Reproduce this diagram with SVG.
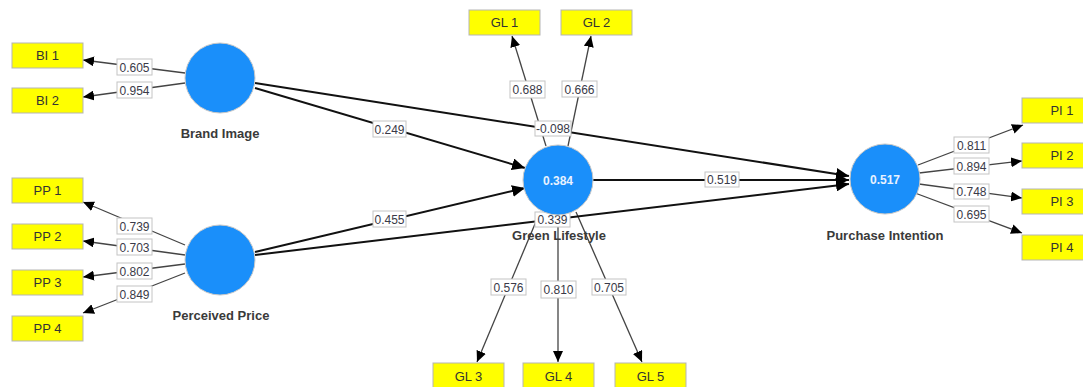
<svg xmlns="http://www.w3.org/2000/svg" width="1083" height="387" viewBox="0 0 1083 387">
<defs>
<style>
.ind{fill:#ffff00;stroke:#b5b5b5;stroke-width:1}
.indt{font-family:"Liberation Sans",Arial,sans-serif;font-size:13px;fill:#333;text-anchor:middle}
.lv{fill:#1a8ffa;stroke:#c8c8c8;stroke-width:1}
.lvn{font-family:"Liberation Sans",Arial,sans-serif;font-size:13px;font-weight:bold;fill:#3a3a3a;text-anchor:middle}
.r2{font-family:"Liberation Sans",Arial,sans-serif;font-size:12px;font-weight:bold;fill:#e8f2ff;text-anchor:middle}
.ld{stroke:#444;stroke-width:1.3;fill:none;marker-end:url(#ah)}
.st{stroke:#111;stroke-width:2;fill:none;marker-end:url(#ahb)}
.lb{fill:#fff;stroke:#c4c4c4;stroke-width:1}
.lbt{font-family:"Liberation Sans",Arial,sans-serif;font-size:12px;fill:#3a3a48;text-anchor:middle}
</style>
<marker id="ah" markerUnits="userSpaceOnUse" markerWidth="12" markerHeight="10" refX="11" refY="5" orient="auto"><path d="M0,0 L11,5 L0,10 Z" fill="#000"/></marker>
<marker id="ahb" markerUnits="userSpaceOnUse" markerWidth="14" markerHeight="12" refX="13" refY="6" orient="auto"><path d="M0,0 L13,6 L0,12 Z" fill="#000"/></marker>
</defs>
<rect width="1083" height="387" fill="#fff"/>
<g id="connectors">
<path class="ld" d="M185,73 L83,60"/>
<path class="ld" d="M185,83 L83,97"/>
<path class="ld" d="M185,245 L83,202"/>
<path class="ld" d="M185,255 L83,241"/>
<path class="ld" d="M185,264 L83,277"/>
<path class="ld" d="M185,273 L83,313"/>
<path class="ld" d="M546,146 L512,36"/>
<path class="ld" d="M568,146 L591,36"/>
<path class="ld" d="M540,212 L477,362"/>
<path class="ld" d="M558,215 L558,362"/>
<path class="ld" d="M576,212 L642,362"/>
<path class="ld" d="M918,165 L1023,125"/>
<path class="ld" d="M919,173 L1022,161"/>
<path class="ld" d="M919,184 L1022,198"/>
<path class="ld" d="M915,193 L1022,233"/>
<path class="st" d="M255,88 L525,168"/>
<path class="st" d="M255,83 L849,176"/>
<path class="st" d="M255,252 L525,188"/>
<path class="st" d="M255,255 L849,184"/>
<path class="st" d="M593,180 L849,180"/>
<g id="labels">
<rect class="lb" x="117" y="59" width="35" height="16"/><text class="lbt" x="134.5" y="71.5">0.605</text>
<rect class="lb" x="117" y="82" width="35" height="16"/><text class="lbt" x="134.5" y="94.5">0.954</text>
<rect class="lb" x="117" y="218" width="35" height="16"/><text class="lbt" x="134.5" y="230.5">0.739</text>
<rect class="lb" x="117" y="239" width="35" height="16"/><text class="lbt" x="134.5" y="251.5">0.703</text>
<rect class="lb" x="117" y="263" width="35" height="16"/><text class="lbt" x="134.5" y="275.5">0.802</text>
<rect class="lb" x="117" y="286" width="35" height="16"/><text class="lbt" x="134.5" y="298.5">0.849</text>
<rect class="lb" x="510" y="81" width="35" height="17"/><text class="lbt" x="527.5" y="94">0.688</text>
<rect class="lb" x="562" y="81" width="35" height="16"/><text class="lbt" x="579.5" y="93.5">0.666</text>
<rect class="lb" x="491" y="279" width="35" height="16"/><text class="lbt" x="508.5" y="291.5">0.576</text>
<rect class="lb" x="541" y="281" width="35" height="17"/><text class="lbt" x="558.5" y="294">0.810</text>
<rect class="lb" x="592" y="279" width="34" height="16"/><text class="lbt" x="609" y="291.5">0.705</text>
<rect class="lb" x="954" y="137" width="35" height="16"/><text class="lbt" x="971.5" y="149.5">0.811</text>
<rect class="lb" x="954" y="158" width="35" height="16"/><text class="lbt" x="971.5" y="170.5">0.894</text>
<rect class="lb" x="954" y="184" width="35" height="15"/><text class="lbt" x="971.5" y="196">0.748</text>
<rect class="lb" x="954" y="206" width="35" height="16"/><text class="lbt" x="971.5" y="218.5">0.695</text>
<rect class="lb" x="373" y="121" width="33" height="16"/><text class="lbt" x="389.5" y="133.5">0.249</text>
<rect class="lb" x="373" y="211" width="33" height="16"/><text class="lbt" x="389.5" y="223.5">0.455</text>
<rect class="lb" x="535" y="121" width="36" height="15"/><text class="lbt" x="553" y="133">-0.098</text>
<rect class="lb" x="535" y="212" width="35" height="15"/><text class="lbt" x="552.5" y="224">0.339</text>
<rect class="lb" x="705" y="172" width="34" height="15"/><text class="lbt" x="722" y="184">0.519</text>
</g>
</g>
<g id="BI1"><rect class="ind" x="12" y="43" width="71" height="25"/><text class="indt" x="47.5" y="60">BI 1</text></g>
<g id="BI2"><rect class="ind" x="12" y="88" width="71" height="25"/><text class="indt" x="47.5" y="105">BI 2</text></g>
<g id="PP1"><rect class="ind" x="12" y="178" width="71" height="25"/><text class="indt" x="47.5" y="195">PP 1</text></g>
<g id="PP2"><rect class="ind" x="12" y="224" width="71" height="25"/><text class="indt" x="47.5" y="241">PP 2</text></g>
<g id="PP3"><rect class="ind" x="12" y="270" width="71" height="25"/><text class="indt" x="47.5" y="287">PP 3</text></g>
<g id="PP4"><rect class="ind" x="12" y="316" width="71" height="25"/><text class="indt" x="47.5" y="333">PP 4</text></g>
<g id="GL1"><rect class="ind" x="469" y="10" width="71" height="25"/><text class="indt" x="504.5" y="27">GL 1</text></g>
<g id="GL2"><rect class="ind" x="561" y="10" width="71" height="25"/><text class="indt" x="596.5" y="27">GL 2</text></g>
<g id="GL3"><rect class="ind" x="433" y="363" width="71" height="25"/><text class="indt" x="468.5" y="381">GL 3</text></g>
<g id="GL4"><rect class="ind" x="523" y="363" width="71" height="25"/><text class="indt" x="558.5" y="381">GL 4</text></g>
<g id="GL5"><rect class="ind" x="615" y="363" width="71" height="25"/><text class="indt" x="650.5" y="381">GL 5</text></g>
<g id="PI1"><rect class="ind" x="1022" y="98" width="80" height="25"/><text class="indt" x="1062" y="115">PI 1</text></g>
<g id="PI2"><rect class="ind" x="1022" y="143" width="80" height="25"/><text class="indt" x="1062" y="160">PI 2</text></g>
<g id="PI3"><rect class="ind" x="1022" y="189" width="80" height="25"/><text class="indt" x="1062" y="206">PI 3</text></g>
<g id="PI4"><rect class="ind" x="1022" y="235" width="80" height="25"/><text class="indt" x="1062" y="252">PI 4</text></g>
<g id="BrandImage"><circle class="lv" cx="220" cy="78" r="35"/><text class="lvn" x="220" y="138">Brand Image</text></g>
<g id="PerceivedPrice"><circle class="lv" cx="220" cy="260" r="35"/><text class="lvn" x="221" y="320">Perceived Price</text></g>
<g id="GreenLifestyle"><circle class="lv" cx="558" cy="180" r="35"/><text class="r2" x="558" y="184.5">0.384</text><text class="lvn" x="559" y="240">Green Lifestyle</text></g>
<g id="PurchaseIntention"><circle class="lv" cx="885" cy="179" r="35"/><text class="r2" x="885" y="183.5">0.517</text><text class="lvn" x="885" y="240">Purchase Intention</text></g>
</svg>
